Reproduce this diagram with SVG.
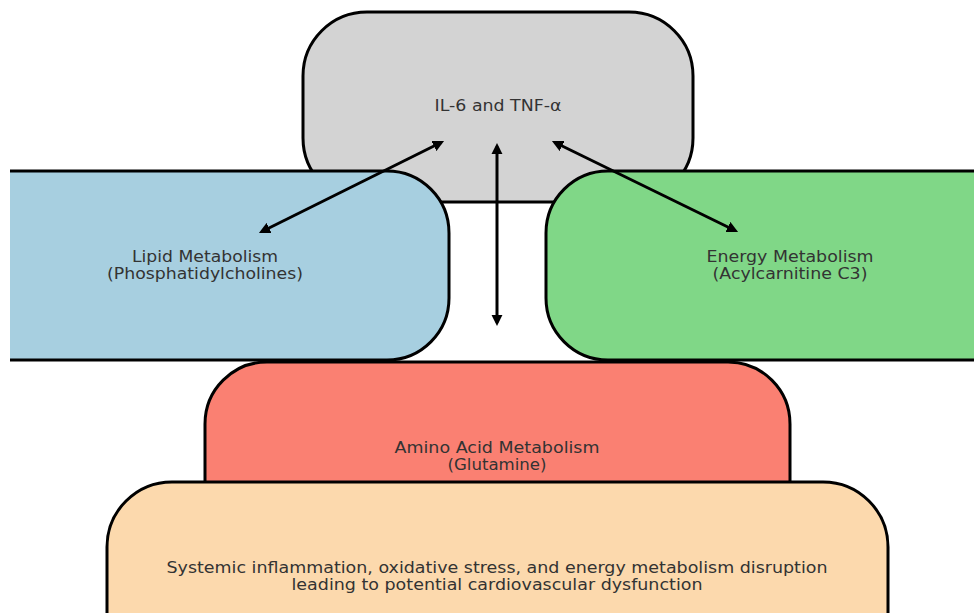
<svg xmlns="http://www.w3.org/2000/svg" width="974" height="613" viewBox="0 0 974 613">
<style>
.box{stroke:#000;stroke-width:3}
.t{font-family:"DejaVu Sans",sans-serif;font-size:15px;fill:#333;text-anchor:middle}
.c{stroke:#000;stroke-width:3;fill:none;marker-start:url(#ah);marker-end:url(#ah)}
</style>
<defs>
<marker id="ah" viewBox="0 0 10 10" refX="7" refY="5" markerWidth="3.8" markerHeight="3.8" orient="auto-start-reverse" markerUnits="strokeWidth">
<path d="M0,0 L10,5 L0,10 z" fill="#000"/>
</marker>
<clipPath id="leftclip"><rect x="10" y="0" width="964" height="613"/></clipPath>
</defs>
<rect width="974" height="613" fill="#fff"/>
<g id="cytokines">
<rect class="box" x="303" y="12" width="390" height="190" rx="64" ry="64" fill="#d3d3d3"/>
<text class="t" x="498" y="111" textLength="127" lengthAdjust="spacingAndGlyphs">IL-6 and TNF-α</text>
</g>
<g id="lipid">
<rect class="box" x="-60" y="171" width="509" height="189" rx="62" ry="62" fill="#a7cfe0" clip-path="url(#leftclip)"/>
<text class="t" x="205" y="262" textLength="146" lengthAdjust="spacingAndGlyphs">Lipid Metabolism</text>
<text class="t" x="205" y="279" textLength="196" lengthAdjust="spacingAndGlyphs">(Phosphatidylcholines)</text>
</g>
<g id="energy">
<rect class="box" x="546" y="171" width="500" height="189" rx="62" ry="62" fill="#80d787"/>
<text class="t" x="790" y="262" textLength="167" lengthAdjust="spacingAndGlyphs">Energy Metabolism</text>
<text class="t" x="790" y="279" textLength="155" lengthAdjust="spacingAndGlyphs">(Acylcarnitine C3)</text>
</g>
<g id="amino">
<rect class="box" x="205" y="362" width="585" height="200" rx="62" ry="62" fill="#fa8072"/>
<text class="t" x="497" y="453" textLength="205" lengthAdjust="spacingAndGlyphs">Amino Acid Metabolism</text>
<text class="t" x="497" y="470" textLength="99" lengthAdjust="spacingAndGlyphs">(Glutamine)</text>
</g>
<g id="outcome">
<rect class="box" x="107" y="482" width="781" height="200" rx="65" ry="65" fill="#fcd9ad"/>
<text class="t" x="497" y="573" textLength="661" lengthAdjust="spacingAndGlyphs">Systemic inflammation, oxidative stress, and energy metabolism disruption</text>
<text class="t" x="497" y="590" textLength="411" lengthAdjust="spacingAndGlyphs">leading to potential cardiovascular dysfunction</text>
</g>
<g id="connectors">
<line class="c" x1="441" y1="142.5" x2="262" y2="231.5"/>
<line class="c" x1="497" y1="146.5" x2="497" y2="322.5"/>
<line class="c" x1="555" y1="142.5" x2="735" y2="230.5"/>
</g>
</svg>
